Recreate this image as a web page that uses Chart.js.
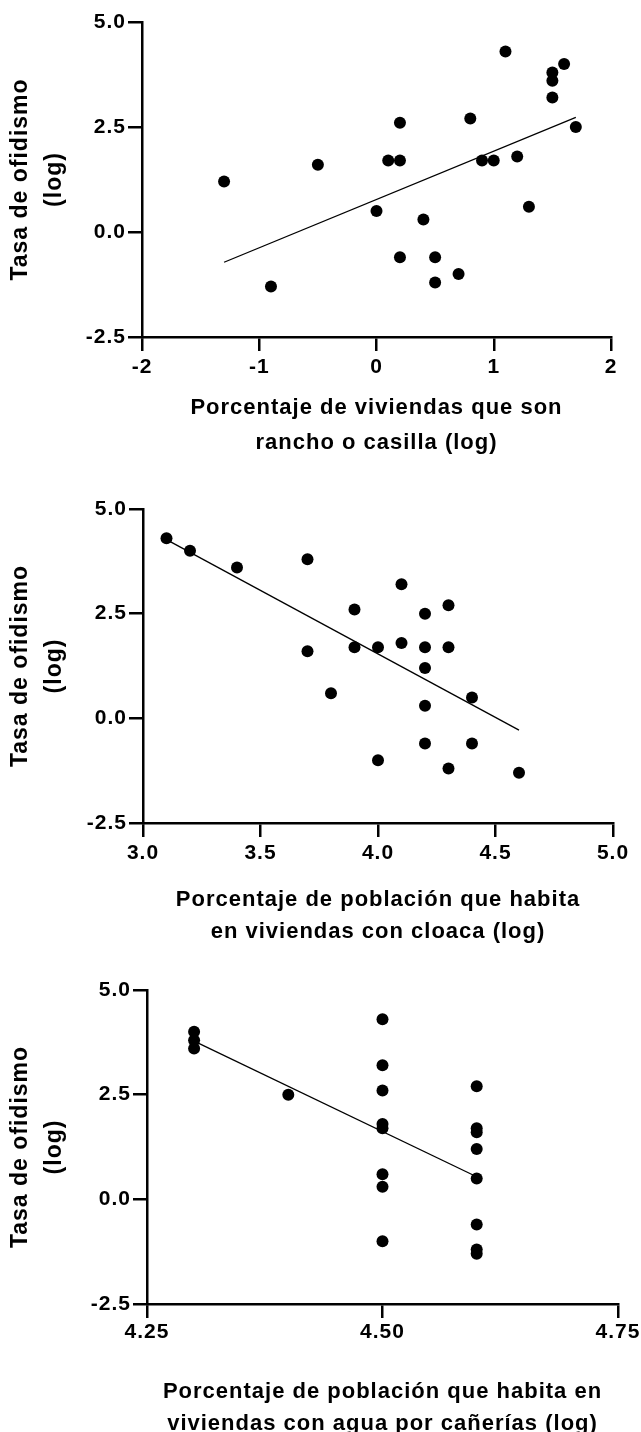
<!DOCTYPE html>
<html>
<head>
<meta charset="utf-8">
<script src="https://cdn.jsdelivr.net/npm/chart.js@4.4.1/dist/chart.umd.min.js"></script>
<style>
  html, body { margin: 0; padding: 0; background: #fff; overflow: hidden; }
  canvas { position: absolute; left: 0; }
</style>
</head>
<body>
<canvas id="c1" width="641" height="480" style="top:0"></canvas>
<canvas id="c2" width="641" height="480" style="top:480px"></canvas>
<canvas id="c3" width="641" height="480" style="top:960px"></canvas>
<script>
// shared y axis
const yTicks = [-2.5, 0, 2.5, 5];
const yTitle = ['Tasa de ofidismo', '(log)'];

// panel 1: rancho o casilla
const ranchoX = [-1.3, -0.9, -0.5, 0.0, 0.1, 0.2, 0.2, 0.2, 0.4, 0.5, 0.5, 0.7, 0.8, 0.9, 1.0, 1.1, 1.2, 1.3, 1.5, 1.5, 1.5, 1.6, 1.7];
const ranchoY = [1.2, -1.3, 1.6, 0.5, 1.7, 1.7, 2.6, -0.6, 0.3, -0.6, -1.2, -1.0, 2.7, 1.7, 1.7, 4.3, 1.8, 0.6, 3.8, 3.6, 3.2, 4.0, 2.5];
const ranchoFitX = [-1.3, 1.7];
const ranchoFitY = [-0.72, 2.73];
const ranchoTicks = [-2, -1, 0, 1, 2];
const ranchoTitle = ['Porcentaje de viviendas que son', 'rancho o casilla (log)'];

// panel 2: cloaca
const cloacaX = [3.1, 3.2, 3.4, 3.7, 3.7, 3.8, 3.9, 3.9, 4.0, 4.0, 4.1, 4.1, 4.2, 4.2, 4.2, 4.2, 4.2, 4.3, 4.3, 4.3, 4.4, 4.4, 4.6];
const cloacaY = [4.3, 4.0, 3.6, 3.8, 1.6, 0.6, 2.6, 1.7, 1.7, -1.0, 3.2, 1.8, 2.5, 1.7, 1.2, 0.3, -0.6, 2.7, 1.7, -1.2, 0.5, -0.6, -1.3];
const cloacaFitX = [3.1, 4.6];
const cloacaFitY = [4.27, -0.28];
const cloacaTicks = [3.0, 3.5, 4.0, 4.5, 5.0];
const cloacaTitle = ['Porcentaje de población que habita', 'en viviendas con cloaca (log)'];

// panel 3: agua por cañerías
const aguaX = [4.3, 4.3, 4.3, 4.4, 4.5, 4.5, 4.5, 4.5, 4.5, 4.5, 4.5, 4.5, 4.6, 4.6, 4.6, 4.6, 4.6, 4.6, 4.6, 4.6];
const aguaY = [4.0, 3.8, 3.6, 2.5, 4.3, 3.2, 2.6, 1.8, 1.7, 0.6, 0.3, -1.0, 2.7, 1.7, 1.6, 1.2, 0.5, -0.6, -1.2, -1.3];
const aguaFitX = [4.3, 4.6];
const aguaFitY = [3.78, 0.54];
const aguaTicks = [4.25, 4.5, 4.75];
const aguaTitle = ['Porcentaje de población que habita en', 'viviendas con agua por cañerías (log)'];

const FONT = "'Liberation Sans', Arial, sans-serif";

// the original text is a slightly widened bold Helvetica
const spacing = {
    id: 'spacing',
    beforeDraw: chart => { chart.ctx.letterSpacing = '1px'; }
};

function pts(xs, ys) {
    return xs.map((x, i) => ({ x: x, y: ys[i] }));
}

function axisLines() {
    return {
        grid: { drawOnChartArea: false, drawTicks: true, tickLength: 14, color: '#000', lineWidth: 2.5 },
        border: { display: true, color: '#000', width: 2.5 }
    };
}

function makePanel(id, o) {
    new Chart(document.getElementById(id), {
        type: 'scatter',
        plugins: [spacing],
        data: {
            datasets: [{
                data: pts(o.xs, o.ys),
                backgroundColor: '#000',
                borderWidth: 0,
                pointRadius: 6,
                pointHoverRadius: 6,
                order: 0
            }, {
                data: pts(o.fitX, o.fitY),
                showLine: true,
                borderColor: '#000',
                borderWidth: 1.3,
                pointRadius: 0,
                order: 1
            }]
        },
        options: {
            responsive: false,
            animation: false,
            events: [],
            layout: { padding: { top: o.top, right: o.right, left: 0, bottom: 0 } },
            plugins: { legend: { display: false }, tooltip: { enabled: false } },
            scales: {
                x: Object.assign({
                    type: 'linear',
                    min: o.xTicks[0],
                    max: o.xTicks[o.xTicks.length - 1],
                    afterFit: s => { s.height = o.xH; },
                    afterBuildTicks: s => { s.ticks = o.xTicks.map(v => ({ value: v })); },
                    ticks: {
                        color: '#000',
                        padding: o.xPad,
                        maxRotation: 0,
                        font: { family: FONT, size: 21, weight: 'bold' },
                        callback: v => v.toFixed(o.xDec)
                    },
                    title: {
                        display: true,
                        text: o.xTitle,
                        color: '#000',
                        padding: { top: 0, bottom: o.titlePad },
                        font: { family: FONT, size: 22, weight: 'bold', lineHeight: o.titleLH }
                    }
                }, axisLines()),
                y: Object.assign({
                    type: 'linear',
                    min: -2.5,
                    max: 5,
                    afterFit: s => { s.width = o.left; },
                    afterBuildTicks: s => { s.ticks = yTicks.map(v => ({ value: v })); },
                    ticks: {
                        color: '#000',
                        padding: 2,
                        font: { family: FONT, size: 21, weight: 'bold' },
                        callback: v => v.toFixed(1)
                    },
                    title: {
                        display: true,
                        text: yTitle,
                        color: '#000',
                        padding: { top: 4, bottom: 0 },
                        font: { family: FONT, size: 23, weight: 'bold', lineHeight: '34px' }
                    }
                }, axisLines())
            }
        }
    });
}

makePanel('c1', {
    xs: ranchoX, ys: ranchoY, fitX: ranchoFitX, fitY: ranchoFitY,
    xTicks: ranchoTicks, xDec: 0, xTitle: ranchoTitle,
    top: 22, right: 30, left: 142, xH: 143, xPad: 4,
    titleLH: '35px', titlePad: 19.5
});

makePanel('c2', {
    xs: cloacaX, ys: cloacaY, fitX: cloacaFitX, fitY: cloacaFitY,
    xTicks: cloacaTicks, xDec: 1, xTitle: cloacaTitle,
    top: 29, right: 28, left: 143, xH: 137, xPad: 4,
    titleLH: '32px', titlePad: 12
});

makePanel('c3', {
    xs: aguaX, ys: aguaY, fitX: aguaFitX, fitY: aguaFitY,
    xTicks: aguaTicks, xDec: 2, xTitle: aguaTitle,
    top: 30, right: 23, left: 147, xH: 136, xPad: 2,
    titleLH: '32px', titlePad: 0
});
</script>
</body>
</html>
